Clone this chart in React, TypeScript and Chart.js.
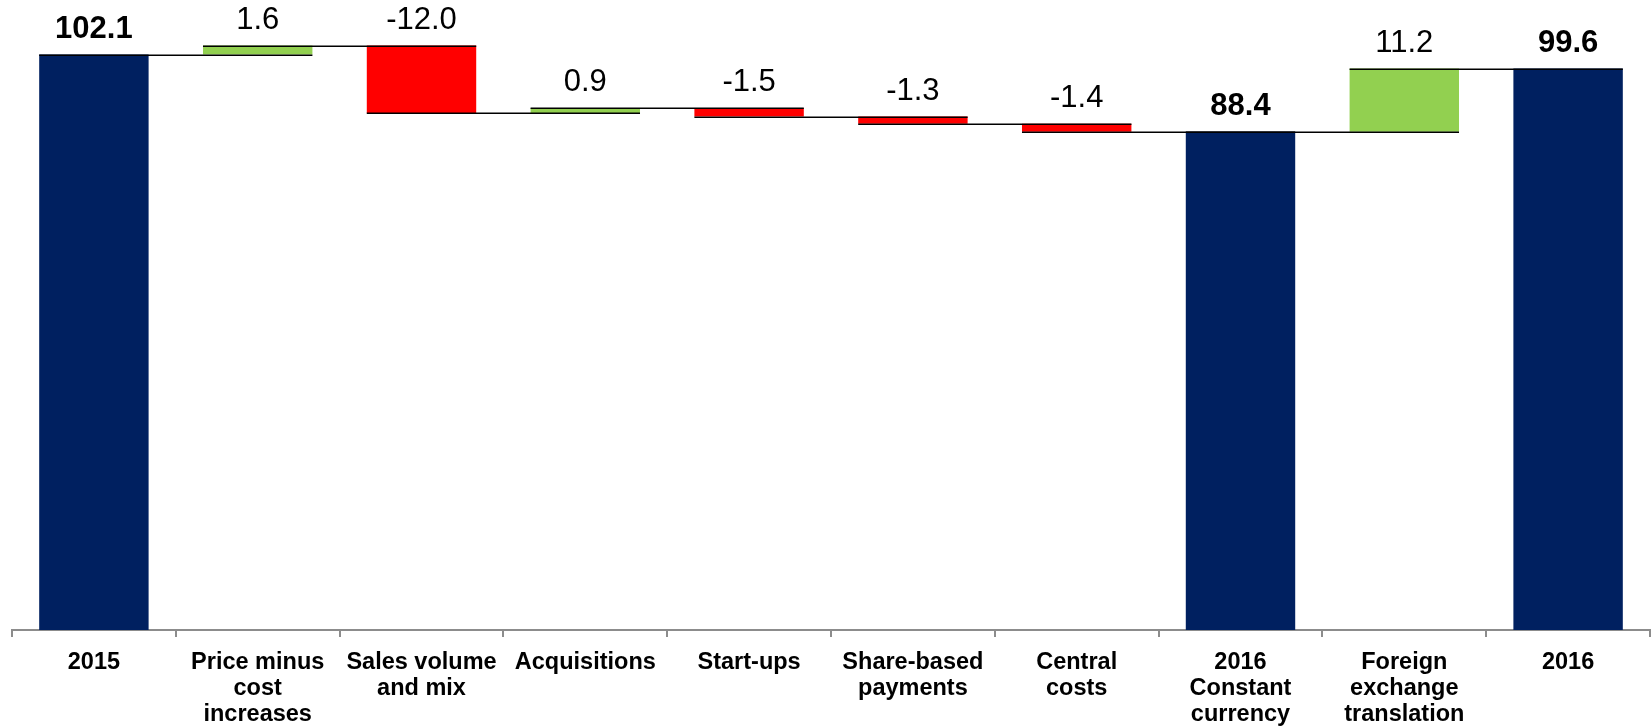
import React, { useEffect, useRef } from "react";
import { Chart, registerables } from "chart.js";

Chart.register(...registerables);

// Bridge from 2015 to 2016 (values in the reporting unit)
const categories: (string | string[])[] = [
  "2015",
  ["Price minus", "cost", "increases"],
  ["Sales volume", "and mix"],
  "Acquisitions",
  "Start-ups",
  ["Share-based", "payments"],
  ["Central", "costs"],
  ["2016", "Constant", "currency"],
  ["Foreign", "exchange", "translation"],
  "2016",
];

const values: number[] = [102.1, 1.6, -12.0, 0.9, -1.5, -1.3, -1.4, 88.4, 11.2, 99.6];

// true = full bar from zero (a total), false = a step from the running total
const isTotal: boolean[] = [true, false, false, false, false, false, false, true, false, true];

const NAVY = "#002060";
const GREEN = "#92D050";
const RED = "#FF0000";
const FONT = '"Liberation Sans", Arial, sans-serif';

// Floating [from, to] ranges for each bar
function buildRanges(): [number, number][] {
  const out: [number, number][] = [];
  let running = 0;
  values.forEach((v, i) => {
    if (isTotal[i]) {
      out.push([0, v]);
      running = v;
    } else {
      out.push([running, running + v]);
      running += v;
    }
  });
  return out;
}

const ranges = buildRanges();
const endLevels = ranges.map((r) => r[1]);

const waterfallDecor = {
  id: "waterfallDecor",
  afterDatasetsDraw(chart: any) {
    const { ctx } = chart;
    const meta = chart.getDatasetMeta(0);
    const yScale = chart.scales.y;
    const bars = meta.data as any[];

    // connector lines: level reached after bar i, from bar i's left edge to bar i+1's right edge
    ctx.save();
    ctx.strokeStyle = "#000";
    ctx.lineWidth = 1.5;
    for (let i = 0; i < bars.length - 1; i++) {
      const a = bars[i].getProps(["x", "width"], true);
      const b = bars[i + 1].getProps(["x", "width"], true);
      const y = Math.round(yScale.getPixelForValue(endLevels[i])) + 0.25;
      ctx.beginPath();
      ctx.moveTo(a.x - a.width / 2, y);
      ctx.lineTo(b.x + b.width / 2, y);
      ctx.stroke();
    }
    ctx.restore();

    // value labels above each bar
    ctx.save();
    ctx.fillStyle = "#000";
    ctx.textAlign = "center";
    ctx.textBaseline = "alphabetic";
    bars.forEach((bar, i) => {
      const { x } = bar.getProps(["x"], true);
      const top = yScale.getPixelForValue(Math.max(ranges[i][0], ranges[i][1]));
      ctx.font = `${isTotal[i] ? "bold " : ""}31px ${FONT}`;
      ctx.fillText(values[i].toFixed(1), x, top - 17);
    });
    ctx.restore();
  },
};

export default function App() {
  const canvasRef = useRef<HTMLCanvasElement | null>(null);

  useEffect(() => {
    if (!canvasRef.current) return;
    const chart = new Chart(canvasRef.current, {
      type: "bar",
      data: {
        labels: categories,
        datasets: [
          {
            data: ranges as any,
            backgroundColor: values.map((v, i) => (isTotal[i] ? NAVY : v >= 0 ? GREEN : RED)),
            borderWidth: 0,
            borderSkipped: false,
            barPercentage: 0.668,
            categoryPercentage: 1,
          },
        ],
      },
      options: {
        responsive: false,
        animation: false,
        devicePixelRatio: 1,
        layout: { padding: { left: 12, right: 2, top: 10, bottom: 0 } },
        plugins: {
          legend: { display: false },
          tooltip: { enabled: false },
        },
        scales: {
          y: {
            display: false,
            min: 0,
            max: 110,
          },
          x: {
            offset: true,
            grid: {
              offset: true,
              drawOnChartArea: false,
              drawTicks: true,
              tickLength: 7,
              color: "#8c8c8c",
              lineWidth: 2,
            },
            border: { display: true, color: "#8c8c8c", width: 2 },
            ticks: {
              color: "#000",
              padding: 12,
              maxRotation: 0,
              autoSkip: false,
              font: { family: FONT, size: 23.5, weight: "bold", lineHeight: 1.12 },
            },
            afterFit: (scale: any) => {
              scale.height = 97;
            },
          },
        },
      },
      plugins: [waterfallDecor],
    });
    return () => chart.destroy();
  }, []);

  return (
    <div style={{ position: "absolute", left: 0, top: 0, width: 1652, height: 727, background: "#fff" }}>
      <canvas ref={canvasRef} width={1652} height={727} />
    </div>
  );
}
